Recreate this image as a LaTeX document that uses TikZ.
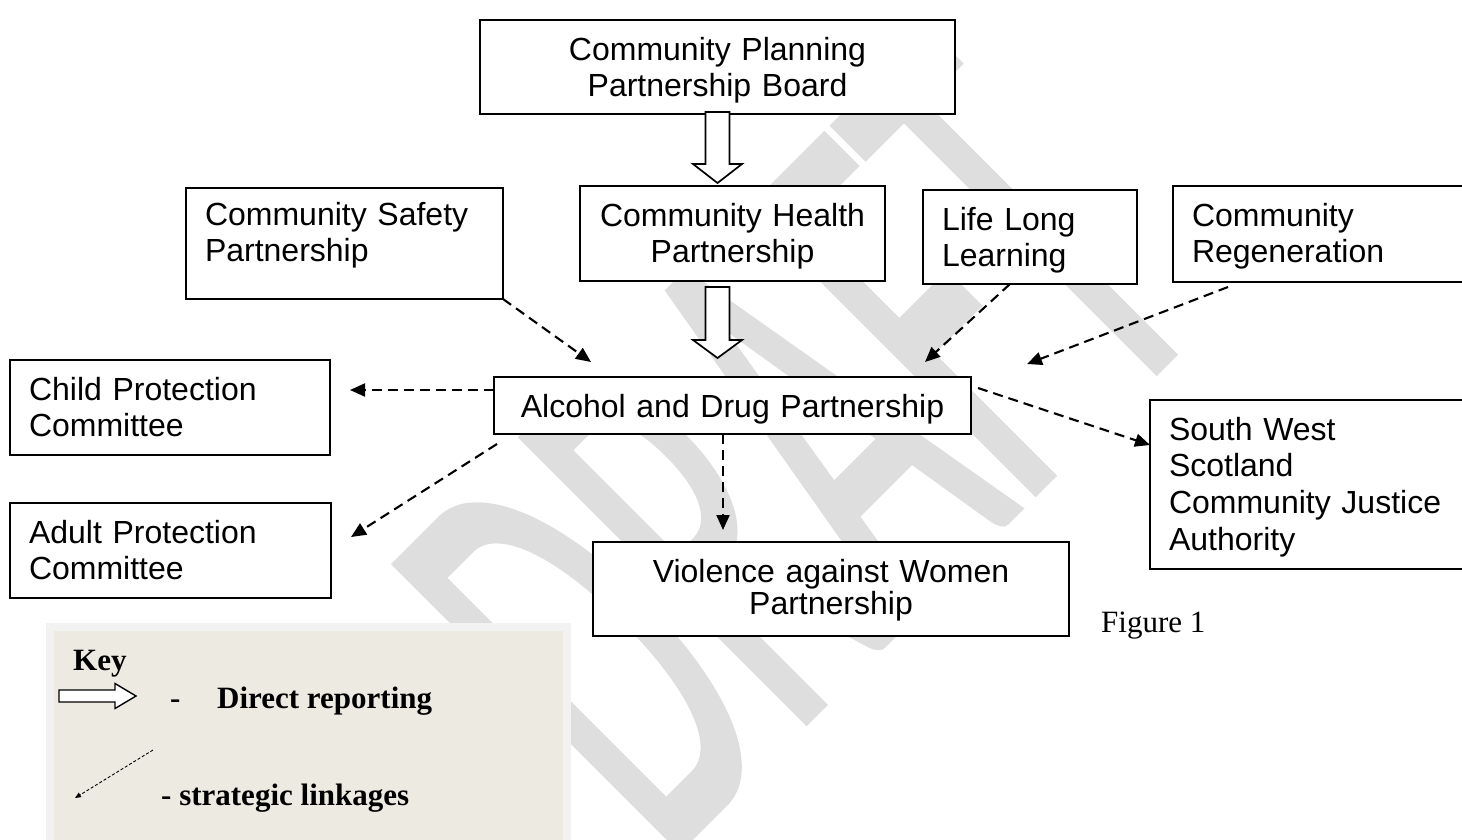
\documentclass[tikz,border=0pt]{standalone}
\usepackage{fontspec}
\setmainfont{Liberation Serif}
\newfontfamily\boxfont{Liberation Sans}
\newfontface\wmfont[FakeStretch=0.46,FakeBold=0.7]{Carlito}
\usetikzlibrary{arrows.meta,calc}
\definecolor{wmgray}{gray}{0.87}
\definecolor{keybg}{HTML}{EDEBE1}
\definecolor{keyframe}{HTML}{F2F2F2}
\begin{document}
\begin{tikzpicture}[x=1pt,y=-1pt,
    box/.style={draw, fill=white, line width=1.9pt, anchor=north west, outer sep=0pt,
      inner xsep=19pt, inner ysep=0pt, text height=40pt, align=left,
      font=\boxfont\fontsize{32}{36}\selectfont},
    link/.style={line width=2.1pt, dash pattern=on 10pt off 6pt, -{Triangle[length=15pt,width=13pt]}},
    report/.style={draw, fill=white, line width=1.7pt},
    keytext/.style={anchor=base west, inner sep=0pt, font=\bfseries\fontsize{31}{31}\selectfont}]
  \useasboundingbox (0,0) rectangle (1462,839);

  % watermark
  \node[rotate=45, inner sep=0pt, text=wmgray, font=\wmfont\fontsize{630}{630}\selectfont]
    (draft) at (798,446) {DRAFT};

  \node[box, align=center, text width=437pt, text depth=54pt] (cppb) at (480,20) {Community Planning\\Partnership Board};
  \node[box, text width=279pt, text height=37pt, text depth=74pt] (csp) at (186,188) {Community Safety\\Partnership};
  \node[box, align=center, text width=267pt, text depth=55pt] (chp) at (580,186) {Community Health\\Partnership};
  \node[box, text width=176pt, text depth=54pt] (lll) at (923,190) {Life Long\\Learning};
  \node[box, text width=292pt, text depth=56pt] (regen) at (1173,186) {Community\\Regeneration};
  \node[box, text width=282pt, text depth=55pt] (cpc) at (10,360) {Child Protection\\Committee};
  \node[box, align=center, text width=439pt, text depth=17pt] (adp) at (494,377) {Alcohol and Drug Partnership};
  \node[box, text width=302pt, text depth=129pt, font=\boxfont\fontsize{32}{36.7}\selectfont] (sw) at (1150,400)
    {South West\\Scotland\\Community Justice\\Authority};
  \node[box, text width=283pt, text depth=55pt] (apc) at (10,503) {Adult Protection\\Committee};
  \node[box, align=center, text width=438pt, text depth=54pt, font=\boxfont\fontsize{32}{32}\selectfont] (vaw) at (593,542)
    {Violence against Women\\Partnership};

  \draw[report] (cppb.south) ++(-12,-2) -- ++(0,52) -- ++(-12.5,0) -- ++(24.5,19) -- ++(24.5,-19) -- ++(-12.5,0) -- ++(0,-52) -- cycle;
  \draw[report] (chp.south -| cppb.south) ++(-12,6) -- ++(0,53) -- ++(-12.5,0) -- ++(24.5,18) -- ++(24.5,-18) -- ++(-12.5,0) -- ++(0,-53) -- cycle;

  \draw[link] (csp.south east) -- ($(adp.north west)+(97,-15)$);
  \draw[link] ($(lll.south west)+(87,0)$) -- ($(adp.north east)+(-46,-15)$);
  \draw[link] ($(regen.south west)+(55,5)$) -- ($(adp.north east)+(56,-13)$);
  \draw[link] ($(adp.north west)+(0,13)$) -- ($(cpc.north east)+(20,30)$);
  \draw[link] ($(adp.south west)+(3,10)$) -- ($(apc.north east)+(20,34)$);
  \draw[link] ($(adp.south west)+(229,0)$) -- ($(vaw.north west)+(130,-12)$);
  \draw[link] ($(adp.north east)+(7,11)$) -- ($(sw.north west)+(0,45)$);

  \node[anchor=base west, inner sep=0pt, font=\fontsize{31}{31}\selectfont] (fig) at (1101,632) {Figure 1};

  % key
  \node[draw=keyframe, fill=keybg, line width=8pt, inner sep=0pt, outer sep=0pt, anchor=north west,
    minimum width=516.5pt, minimum height=240pt] (key) at (50,626.5) {};
  \node[keytext] (keyhead) at (73,670) {Key};
  \coordinate (keyarrow) at (59,696);
  \draw[report, line width=1.4pt] (keyarrow) ++(0,-6) -- ++(56,0) -- ++(0,-6.5) -- ++(21,12.5) -- ++(-21,12.5) -- ++(0,-6.5) -- ++(-56,0) -- cycle;
  \node[keytext] (keydash) at (170,708) {-};
  \node[keytext] (keydirect) at (217,708) {Direct reporting};
  \coordinate (keyfrom) at (153,750);
  \coordinate (keyto) at (75,798);
  \draw[line width=0.9pt, dash pattern=on 3pt off 2pt, -{Triangle[length=6pt,width=5pt]}] (keyfrom) -- (keyto);
  \node[keytext] (keystrat) at (161,805) {- strategic linkages};
\end{tikzpicture}
\end{document}
